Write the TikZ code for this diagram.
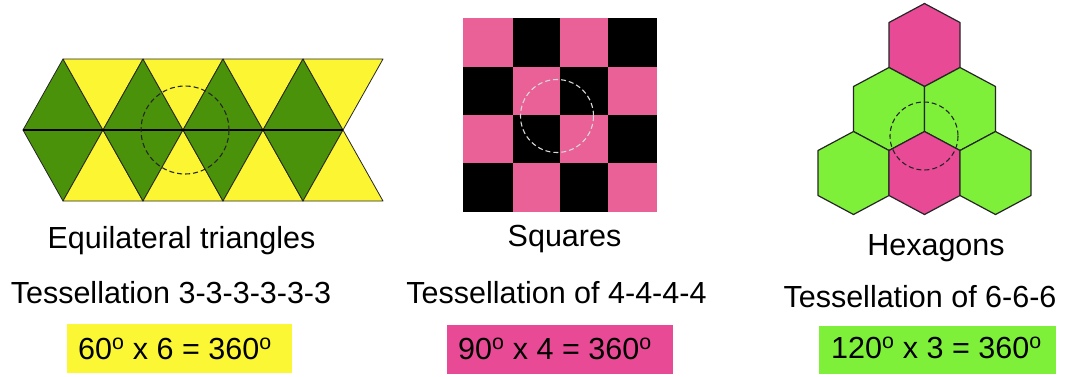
\documentclass[tikz,border=0pt]{standalone}
\usepackage{fontspec}
\setmainfont{Liberation Sans}
\definecolor{trigreen}{RGB}{74,146,10}
\definecolor{triyellow}{RGB}{252,246,50}
\definecolor{sqpink}{RGB}{233,97,151}
\definecolor{hexpink}{RGB}{232,74,150}
\definecolor{hexgreen}{RGB}{126,240,58}
\definecolor{boxyellow}{RGB}{251,247,52}
\definecolor{boxpink}{RGB}{232,74,150}
\definecolor{boxgreen}{RGB}{126,240,58}
\begin{document}
\begin{tikzpicture}[x=1pt,y=-1pt,
  tri/.style={draw=black!85,line width=0.8pt,line join=round},
  hexa/.style={draw=black!85,line width=1.2pt,line join=round},
  dcirc/.style={dash pattern=on 5pt off 3pt,line width=1.1pt},
  lbl/.style={inner sep=0pt,font=\fontsize{30.5}{36}\selectfont},
  anglebox/.style={inner sep=0pt,anchor=north west},
  angletext/.style={inner sep=0pt,anchor=base west,font=\fontsize{30.5}{36}\selectfont}]
\useasboundingbox (0,0) rectangle (1071,376);
\fill[white] (0,0) rectangle (1071,376);
% ---------- triangles ----------
\foreach \i in {0,...,3}{
  \pgfmathsetmacro{\m}{23+80*\i}
  \pgfmathsetmacro{\n}{103+80*\i}
  \pgfmathsetmacro{\t}{63+80*\i}
  \pgfmathsetmacro{\u}{143+80*\i}
  \filldraw[tri,fill=trigreen] (\m,130) -- (\t,59) -- (\n,130) -- cycle;
  \filldraw[tri,fill=triyellow] (\t,59) -- (\u,59) -- (\n,130) -- cycle;
  \filldraw[tri,fill=trigreen] (\m,130) -- (\n,130) -- (\t,201) -- cycle;
  \filldraw[tri,fill=triyellow] (\t,201) -- (\n,130) -- (\u,201) -- cycle;
}
\draw[line width=2pt,black] (23,130) -- (343,130);
\draw[dcirc,black!85] (185,130) circle[radius=44];
% ---------- squares ----------
\def\xs{{463,513,560,608,657}}
\def\ys{{18,67,115,163,212}}
\foreach \r in {0,...,3}{
  \foreach \c in {0,...,3}{
    \pgfmathsetmacro{\xa}{\xs[\c]}
    \pgfmathsetmacro{\xb}{\xs[\c+1]}
    \pgfmathsetmacro{\ya}{\ys[\r]}
    \pgfmathsetmacro{\yb}{\ys[\r+1]}
    \pgfmathtruncatemacro{\parity}{mod(\r+\c,2)}
    \ifnum\parity=0
      \fill[sqpink] (\xa,\ya) rectangle (\xb,\yb);
    \else
      \fill[black] (\xa,\ya) rectangle (\xb,\yb);
    \fi
  }
}
\draw[dcirc,white!85!black] (557,116) circle[radius=36.5];
% ---------- hexagons ----------
\foreach \cx/\cy/\col in {924.5/45/hexpink, 889/109/hexgreen, 960/109/hexgreen,
                          853.5/173/hexgreen, 924.5/173/hexpink, 995.5/173/hexgreen}{
  \filldraw[hexa,fill=\col] (\cx,\cy-41.5) -- (\cx+35.5,\cy-22.5) -- (\cx+35.5,\cy+22.5)
     -- (\cx,\cy+41.5) -- (\cx-35.5,\cy+22.5) -- (\cx-35.5,\cy-22.5) -- cycle;
}
\draw[dcirc,black!85] (924,136) circle[radius=34];
% ---------- labels ----------
\node[lbl,anchor=base] (tri1) at (181.5,248) {Equilateral triangles};
\node[lbl,anchor=base] (tri2) at (171,303) {Tessellation 3-3-3-3-3-3};
\node[lbl,anchor=base] (sq1) at (564.5,246) {Squares};
\node[lbl,anchor=base] (sq2) at (556.5,303) {Tessellation of 4-4-4-4};
\node[lbl,anchor=base] (hx1) at (936,255) {Hexagons};
\node[lbl,anchor=base] (hx2) at (920,307) {Tessellation of 6-6-6};
% ---------- angle boxes ----------
\node[anglebox,fill=boxyellow,minimum width=225pt,minimum height=49pt] (b1) at (67,324) {};
\node[anglebox,fill=boxpink,minimum width=226pt,minimum height=49pt] (b2) at (447,325) {};
\node[anglebox,fill=boxgreen,minimum width=237pt,minimum height=48pt] (b3) at (819,326) {};
\node[angletext] (v1) at (78,359) {60\textsuperscript{o} x 6 = 360\textsuperscript{o}};
\node[angletext] (v2) at (458,359) {90\textsuperscript{o} x 4 = 360\textsuperscript{o}};
\node[angletext] (v3) at (831,358) {120\textsuperscript{o} x 3 = 360\textsuperscript{o}};
\end{tikzpicture}
\end{document}
